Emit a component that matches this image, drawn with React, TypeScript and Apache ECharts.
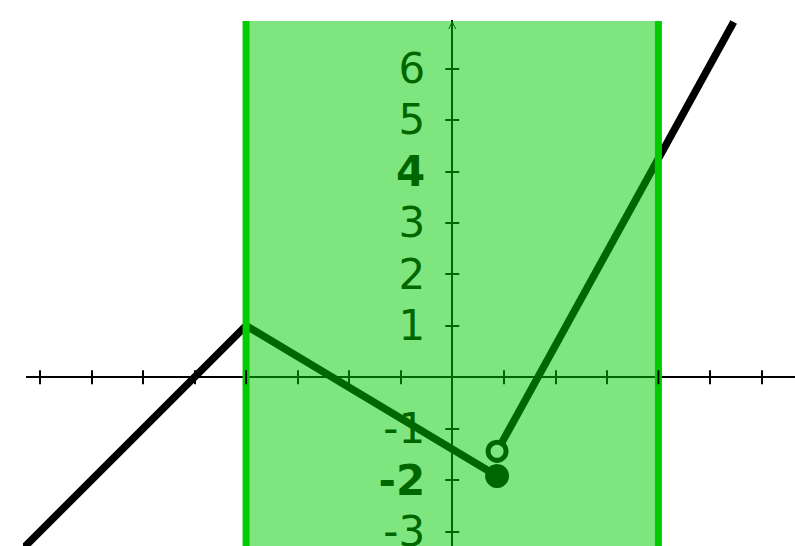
import React, { useEffect, useRef } from "react";
import * as echarts from "echarts";

// Piecewise function
const piece1X = [-9, -4, 0.87];
const piece1Y = [-4, 1, -1.92];
const piece2X = [0.87, 5.46];
const piece2Y = [-1.44, 6.9];
const closedPoint = [0.87, -1.92];
const openPoint = [0.87, -1.44];
const bandRange = [-4, 4];
const xTicks = [-8, -7, -6, -5, -4, -3, -2, -1, 1, 2, 3, 4, 5, 6];
const yTicks = [-3, -2, -1, 1, 2, 3, 4, 5, 6];
const boldLabels = [4, -2];

const W = 795;
const H = 546;
const GRID_LEFT = 27;
const GRID_TOP = 21;
const X_MIN = -8.25;
const X_MAX = 6.65;
const Y_MIN = -3.28;
const Y_MAX = 6.92;
const FONT = "DejaVu Sans";

export default function App() {
  const ref = useRef<HTMLDivElement>(null);
  useEffect(() => {
    if (!ref.current) return;
    const chart = echarts.init(ref.current, null, { renderer: "svg" });
    const zip = (xs: number[], ys: number[]) => xs.map((x, i) => [x, ys[i]]);
    const arrow = "path://M0,10 L5,0 L10,10 L8.8,10 L5,2.4 L1.2,10 Z";
    const axisLine = { onZero: true, lineStyle: { color: "#000", width: 2 } };
    const tick = {
      show: true,
      inside: false,
      length: 7,
      lineStyle: { color: "#000", width: 2 },
    };
    // pixel distance from grid's left edge to x = 0 (the y axis sits there)
    const gridW = W - GRID_LEFT;
    const zeroOffset = ((0 - X_MIN) / (X_MAX - X_MIN)) * gridW;
    chart.setOption({
      animation: false,
      grid: { left: GRID_LEFT, right: 0, top: GRID_TOP, bottom: 0, containLabel: false, outerBoundsMode: "none" },
      xAxis: [
        {
          type: "value", min: X_MIN, max: X_MAX, position: "bottom",
          axisLine, axisTick: { ...tick, customValues: xTicks },
          axisLabel: { show: false }, splitLine: { show: false },
        },
        {
          type: "value", min: X_MIN, max: X_MAX, position: "top",
          axisLine, axisTick: { ...tick, customValues: xTicks },
          axisLabel: { show: false }, splitLine: { show: false },
        },
      ],
      yAxis: [
        {
          type: "value", min: Y_MIN, max: Y_MAX, position: "left",
          offset: -zeroOffset,
          axisLine: {
            onZero: false,
            lineStyle: { color: "#000", width: 2 },
            symbol: ["none", arrow], symbolSize: [11, 8], symbolOffset: [0, -4],
          },
          axisTick: { ...tick, customValues: yTicks },
          axisLabel: {
            show: true,
            customValues: yTicks,
            margin: 27,
            color: "#000",
            fontSize: 42,
            fontFamily: FONT,
            formatter: (v: number) => (boldLabels.includes(v) ? `{b|${v}}` : `${v}`),
            rich: { b: { fontWeight: "bold", fontSize: 42, fontFamily: FONT, color: "#000" } },
          },
          splitLine: { show: false },
        },
        {
          type: "value", min: Y_MIN, max: Y_MAX, position: "right",
          axisLine, axisTick: { ...tick, customValues: yTicks },
          axisLabel: { show: false }, splitLine: { show: false },
        },
      ],
      series: [
        {
          type: "line", data: zip(piece1X, piece1Y), symbol: "none", clip: false, z: 2,
          lineStyle: { color: "#000", width: 7.5, join: "miter", cap: "butt" },
        },
        {
          type: "line", data: zip(piece2X, piece2Y), symbol: "none", clip: false, z: 2,
          lineStyle: { color: "#000", width: 7.5, join: "miter", cap: "butt" },
        },
        {
          type: "scatter", data: [closedPoint], symbol: "circle", symbolSize: 24, z: 3,
          itemStyle: { color: "#000", opacity: 1 },
        },
        {
          type: "scatter", data: [openPoint], symbol: "circle", symbolSize: 18, z: 3,
          itemStyle: { color: "#fff", borderColor: "#000", borderWidth: 5, opacity: 1 },
        },
        {
          type: "custom",
          z: 10,
          data: [bandRange],
          renderItem: (params: any, api: any) => {
            const x0 = api.value(0);
            const x1 = api.value(1);
            const pTop0 = api.coord([x0, Y_MAX]);
            const pBot1 = api.coord([x1, Y_MIN]);
            const pTop1 = api.coord([x1, Y_MAX]);
            const pBot0 = api.coord([x0, Y_MIN]);
            const z0a = api.coord([x0, 0]);
            const z1a = api.coord([x1, 0]);
            return {
              type: "group",
              children: [
                {
                  type: "rect",
                  shape: { x: pTop0[0], y: pTop0[1], width: pBot1[0] - pTop0[0], height: pBot1[1] - pTop0[1] },
                  style: { fill: "rgba(0,204,0,0.5)" },
                },
                {
                  type: "line",
                  shape: { x1: pTop0[0], y1: pTop0[1], x2: pBot0[0], y2: pBot0[1] + 5 },
                  style: { stroke: "#00cc00", lineWidth: 7 },
                },
                {
                  type: "line",
                  shape: { x1: pTop1[0], y1: pTop1[1], x2: pBot1[0], y2: pBot1[1] + 5 },
                  style: { stroke: "#00cc00", lineWidth: 7 },
                },
                {
                  type: "line",
                  shape: { x1: z0a[0], y1: z0a[1] - 7, x2: z0a[0], y2: z0a[1] + 7 },
                  style: { stroke: "#000", lineWidth: 2 },
                },
                {
                  type: "line",
                  shape: { x1: z1a[0], y1: z1a[1] - 7, x2: z1a[0], y2: z1a[1] + 7 },
                  style: { stroke: "#000", lineWidth: 2 },
                },
              ],
            };
          },
        },
      ],
    });
    return () => chart.dispose();
  }, []);
  return (
    <div
      ref={ref}
      style={{ position: "absolute", left: 0, top: 0, width: W, height: H }}
    />
  );
}
